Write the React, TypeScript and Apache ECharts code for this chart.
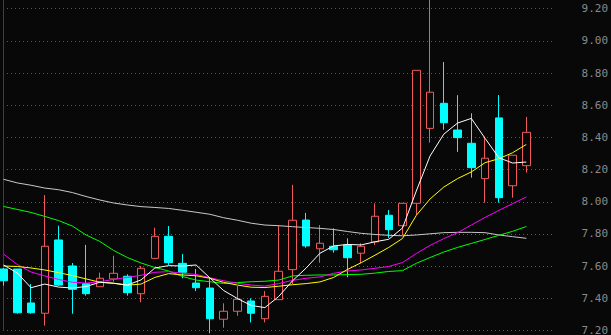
import React, { useEffect, useRef } from "react";
import * as echarts from "echarts";

const categories = [
  "D01","D02","D03","D04","D05","D06","D07","D08","D09","D10",
  "D11","D12","D13","D14","D15","D16","D17","D18","D19","D20",
  "D21","D22","D23","D24","D25","D26","D27","D28","D29","D30",
  "D31","D32","D33","D34","D35","D36","D37","D38","D39",
];

const opens = [
  7.603, 7.603, 7.398, 7.336, 7.778, 7.621, 7.514, 7.496, 7.543, 7.559,
  7.454, 7.667, 7.800, 7.637, 7.518, 7.488, 7.300, 7.348, 7.410, 7.303,
  7.418, 7.599, 7.898, 7.725, 7.740, 7.748, 7.698, 7.766, 7.927, 7.864,
  7.999, 8.451, 8.602, 8.441, 8.361, 8.148, 8.514, 8.105, 8.226,
];
const closes = [
  7.532, 7.339, 7.339, 7.740, 7.506, 7.480, 7.454, 7.547, 7.577, 7.460,
  7.607, 7.800, 7.641, 7.583, 7.490, 7.303, 7.348, 7.420, 7.336, 7.438,
  7.589, 7.897, 7.742, 7.758, 7.719, 7.671, 7.740, 7.921, 7.840, 7.999,
  8.801, 8.669, 8.485, 8.395, 8.214, 8.271, 8.033, 8.289, 8.427,
];
const lows = [
  7.502, 7.333, 7.333, 7.261, 7.500, 7.333, 7.442, 7.496, 7.526, 7.442,
  7.402, 7.667, 7.627, 7.547, 7.470, 7.215, 7.249, 7.321, 7.281, 7.281,
  7.418, 7.512, 7.731, 7.641, 7.701, 7.553, 7.637, 7.748, 7.790, 7.808,
  7.929, 8.365, 8.443, 8.309, 8.154, 8.003, 8.003, 8.033, 8.184,
];
const highs = [
  7.609, 7.603, 7.512, 8.049, 7.864, 7.639, 7.748, 7.581, 7.683, 7.571,
  7.621, 7.852, 7.862, 7.693, 7.603, 7.547, 7.396, 7.500, 7.426, 7.470,
  7.864, 8.110, 7.941, 7.868, 7.848, 7.788, 7.758, 7.999, 7.959, 7.999,
  8.801, 9.250, 8.851, 8.651, 8.542, 8.401, 8.652, 8.289, 8.520,
];

const ma5 = [
  7.627, 7.579, 7.490, 7.512, 7.494, 7.488, 7.497, 7.523, 7.517, 7.506,
  7.537, 7.609, 7.623, 7.621, 7.627, 7.549, 7.473, 7.425, 7.383, 7.370,
  7.437, 7.531, 7.609, 7.698, 7.742, 7.751, 7.748, 7.767, 7.782, 7.850,
  8.073, 8.284, 8.416, 8.483, 8.511, 8.391, 8.274, 8.242, 8.248,
];
const ma10 = [
  7.621, 7.618, 7.609, 7.597, 7.581, 7.563, 7.543, 7.523, 7.517, 7.505,
  7.512, 7.552, 7.575, 7.567, 7.562, 7.547, 7.522, 7.506, 7.493, 7.491,
  7.499, 7.508, 7.515, 7.525, 7.552, 7.600, 7.641, 7.686, 7.733, 7.787,
  7.926, 8.025, 8.097, 8.148, 8.188, 8.244, 8.268, 8.304, 8.354,
];
const ma20 = [
  7.693, 7.630, 7.585, 7.561, 7.540, 7.523, 7.518, 7.526, 7.540, 7.552,
  7.565, 7.583, 7.587, 7.577, 7.570, 7.550, 7.532, 7.517, 7.506, 7.500,
  7.515, 7.534, 7.547, 7.555, 7.577, 7.591, 7.597, 7.607, 7.618, 7.642,
  7.696, 7.745, 7.786, 7.822, 7.868, 7.914, 7.956, 7.997, 8.037,
];
const ma30 = [
  7.980, 7.962, 7.944, 7.920, 7.895, 7.862, 7.808, 7.769, 7.715, 7.672,
  7.639, 7.612, 7.591, 7.558, 7.536, 7.526, 7.516, 7.521, 7.526, 7.529,
  7.536, 7.561, 7.565, 7.567, 7.567, 7.569, 7.571, 7.578, 7.588, 7.593,
  7.637, 7.672, 7.705, 7.733, 7.757, 7.781, 7.806, 7.830, 7.859,
];
const ma60 = [
  8.144, 8.122, 8.108, 8.091, 8.081, 8.064, 8.040, 8.019, 8.001, 7.989,
  7.979, 7.974, 7.968, 7.957, 7.945, 7.933, 7.912, 7.897, 7.879, 7.868,
  7.864, 7.858, 7.853, 7.848, 7.841, 7.829, 7.818, 7.811, 7.806, 7.803,
  7.808, 7.815, 7.822, 7.824, 7.824, 7.822, 7.808, 7.798, 7.788,
];

const yMin = 7.2;
const yMax = 9.4;
const yInterval = 0.2;

export default function App() {
  const ref = useRef<HTMLDivElement>(null);
  useEffect(() => {
    if (!ref.current) return;
    const chart = echarts.init(ref.current, null, { renderer: "svg" });
    const kData = categories.map((_, i) => [opens[i], closes[i], lows[i], highs[i]]);
    const line = (name: string, data: number[], color: string) => ({
      name,
      type: "line",
      xAxisIndex: 0,
      yAxisIndex: 0,
      data,
      symbol: "none",
      smooth: false,
      lineStyle: { color, width: 1 },
      itemStyle: { color },
    });
    chart.setOption({
      animation: false,
      backgroundColor: "#080808",
      grid: [
        { left: 0.62, top: 0, width: 536.6, height: 364.8 },
        { left: 7, top: 0, width: 553.7, height: 364.8 },
      ],
      xAxis: [
        {
          type: "category",
          gridIndex: 0,
          data: categories,
          boundaryGap: true,
          show: false,
        },
        { type: "value", gridIndex: 1, min: 0, max: 1, show: false },
      ],
      yAxis: [
        { type: "value", gridIndex: 0, min: yMin, max: yMax, show: false, splitLine: { show: false } },
        {
          type: "value",
          gridIndex: 1,
          position: "right",
          min: yMin,
          max: yMax,
          interval: yInterval,
          axisLine: { show: true, lineStyle: { color: "#404040", width: 1 } },
          axisTick: { show: false },
          axisLabel: {
            margin: 28,
            color: "#8a8a8a",
            fontFamily: "DejaVu Sans Mono",
            fontSize: 11,
            formatter: (v: number) => v.toFixed(2),
          },
          splitLine: {
            show: true,
            lineStyle: { color: "#5a5a5a", type: [1, 3], width: 1 },
          },
        },
      ],
      series: [
        {
          name: "K",
          type: "candlestick",
          xAxisIndex: 0,
          yAxisIndex: 0,
          data: kData,
          barWidth: 8,
          itemStyle: {
            color: "#080808",
            borderColor: "#f05a5a",
            color0: "#00ffff",
            borderColor0: "#00ffff",
            borderWidth: 1,
          },
        },
        line("MA60", ma60, "#c8c8c8"),
        line("MA30", ma30, "#00ff00"),
        line("MA20", ma20, "#ff00ff"),
        line("MA10", ma10, "#ffff00"),
        line("MA5", ma5, "#ffffff"),
      ],
    });
    return () => chart.dispose();
  }, []);
  return (
    <div
      ref={ref}
      style={{
        position: "fixed",
        left: -4,
        top: -29,
        width: 615,
        height: 365,
        background: "#080808",
      }}
    />
  );
}
